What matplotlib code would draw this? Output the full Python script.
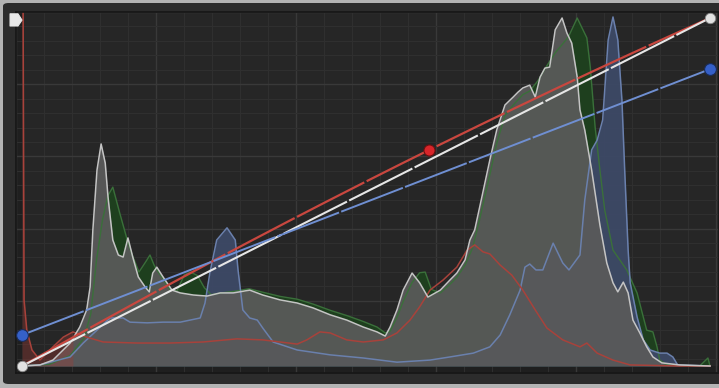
import numpy as np
import matplotlib
matplotlib.use("Agg")
import matplotlib.pyplot as plt
from matplotlib.patches import FancyBboxPatch, Rectangle, Polygon

# histogram channels, x = input level (0..1), y = relative count (0..1)
luma_x = [0, 0.026, 0.045, 0.070, 0.084, 0.094, 0.099, 0.103, 0.109, 0.115, 0.121, 0.125,
          0.132, 0.140, 0.147, 0.154, 0.161, 0.169, 0.179, 0.185, 0.190, 0.196, 0.205,
          0.218, 0.230, 0.249, 0.269, 0.288, 0.307, 0.331, 0.350, 0.375, 0.400, 0.423,
          0.448, 0.472, 0.496, 0.516, 0.528, 0.535, 0.545, 0.554, 0.567, 0.578, 0.590,
          0.608, 0.622, 0.632, 0.644, 0.651, 0.658, 0.669, 0.680, 0.690, 0.702, 0.714,
          0.721, 0.728, 0.738, 0.746, 0.753, 0.760, 0.767, 0.775, 0.785, 0.792, 0.799,
          0.807, 0.811, 0.818, 0.828, 0.840, 0.850, 0.859, 0.866, 0.874, 0.881, 0.888,
          0.898, 0.908, 0.917, 0.930, 0.956, 1.0]
luma_y = [0, 0.003, 0.017, 0.066, 0.112, 0.161, 0.227, 0.391, 0.563, 0.638, 0.583, 0.486,
          0.362, 0.319, 0.313, 0.368, 0.313, 0.256, 0.227, 0.213, 0.267, 0.284, 0.256,
          0.218, 0.210, 0.204, 0.201, 0.210, 0.210, 0.218, 0.204, 0.190, 0.181, 0.167,
          0.147, 0.132, 0.112, 0.098, 0.086, 0.112, 0.161, 0.218, 0.267, 0.239, 0.198,
          0.218, 0.247, 0.267, 0.305, 0.362, 0.391, 0.491, 0.592, 0.678, 0.750, 0.773,
          0.787, 0.799, 0.807, 0.773, 0.830, 0.856, 0.859, 0.966, 1.0, 0.957, 0.928,
          0.830, 0.736, 0.678, 0.563, 0.405, 0.296, 0.239, 0.213, 0.241, 0.210, 0.132,
          0.095, 0.055, 0.026, 0.009, 0.003, 0]

green_x = [0, 0.040, 0.070, 0.090, 0.100, 0.108, 0.117, 0.125, 0.132, 0.142, 0.153, 0.160,
           0.170, 0.180, 0.186, 0.192, 0.198, 0.205, 0.215, 0.225, 0.236, 0.245, 0.255,
           0.265, 0.275, 0.290, 0.310, 0.330, 0.350, 0.375, 0.400, 0.423, 0.448, 0.472,
           0.496, 0.516, 0.528, 0.535, 0.545, 0.555, 0.567, 0.578, 0.586, 0.595, 0.608,
           0.622, 0.632, 0.644, 0.655, 0.665, 0.680, 0.690, 0.702, 0.714, 0.728, 0.738,
           0.750, 0.762, 0.775, 0.794, 0.807, 0.821, 0.826, 0.833, 0.840, 0.847, 0.859,
           0.879, 0.894, 0.903, 0.908, 0.917, 0.923, 0.927, 0.9375, 0.985, 0.997, 1.0]
green_y = [0, 0.005, 0.030, 0.080, 0.150, 0.300, 0.420, 0.490, 0.514, 0.440, 0.362, 0.320,
           0.270, 0.300, 0.319, 0.290, 0.270, 0.250, 0.220, 0.215, 0.262, 0.270, 0.260,
           0.225, 0.205, 0.210, 0.215, 0.222, 0.212, 0.200, 0.192, 0.178, 0.160, 0.145,
           0.128, 0.112, 0.095, 0.100, 0.140, 0.190, 0.240, 0.268, 0.270, 0.220, 0.210,
           0.235, 0.255, 0.290, 0.340, 0.420, 0.550, 0.640, 0.720, 0.750, 0.780, 0.790,
           0.820, 0.860, 0.900, 0.945, 1.0, 0.943, 0.859, 0.687, 0.563, 0.448, 0.333,
           0.276, 0.210, 0.141, 0.103, 0.098, 0.055, 0.017, 0.003, 0, 0.023, 0]

blue_x = [0, 0.026, 0.070, 0.089, 0.109, 0.128, 0.147, 0.157, 0.182, 0.205, 0.230, 0.259,
          0.266, 0.273, 0.283, 0.298, 0.310, 0.314, 0.321, 0.331, 0.342, 0.350, 0.365,
          0.400, 0.448, 0.496, 0.545, 0.593, 0.622, 0.656, 0.680, 0.695, 0.709, 0.724,
          0.731, 0.738, 0.747, 0.757, 0.772, 0.786, 0.795, 0.811, 0.818, 0.828, 0.836,
          0.844, 0.852, 0.859, 0.866, 0.872, 0.876, 0.881, 0.884, 0.894, 0.903, 0.913,
          0.927, 0.9375, 0.946, 0.953, 1.0]
blue_y = [0, 0.003, 0.026, 0.066, 0.103, 0.138, 0.138, 0.126, 0.124, 0.126, 0.126, 0.138,
          0.181, 0.267, 0.362, 0.397, 0.362, 0.276, 0.161, 0.138, 0.132, 0.109, 0.069,
          0.046, 0.032, 0.023, 0.011, 0.017, 0.026, 0.037, 0.055, 0.089, 0.147, 0.218,
          0.284, 0.293, 0.276, 0.276, 0.353, 0.296, 0.276, 0.319, 0.477, 0.621, 0.649,
          0.707, 0.937, 1.003, 0.937, 0.764, 0.563, 0.333, 0.239, 0.141, 0.075, 0.046,
          0.037, 0.037, 0.026, 0.003, 0]

red_x = [0, 0.0015, 0.003, 0.007, 0.0145, 0.026, 0.045, 0.060, 0.074, 0.094, 0.118, 0.167,
         0.215, 0.263, 0.3125, 0.350, 0.400, 0.414, 0.433, 0.448, 0.472, 0.496, 0.525,
         0.545, 0.564, 0.578, 0.593, 0.612, 0.632, 0.647, 0.658, 0.670, 0.680, 0.695,
         0.712, 0.728, 0.746, 0.763, 0.786, 0.811, 0.821, 0.836, 0.859, 0.884, 0.956, 1.0]
red_y = [1.10, 1.10, 0.190, 0.103, 0.046, 0.017, 0.055, 0.083, 0.098, 0.083, 0.069, 0.066,
         0.066, 0.069, 0.078, 0.075, 0.063, 0.075, 0.098, 0.095, 0.075, 0.069, 0.075,
         0.095, 0.132, 0.170, 0.218, 0.247, 0.284, 0.333, 0.348, 0.328, 0.322, 0.290,
         0.261, 0.218, 0.161, 0.109, 0.075, 0.055, 0.066, 0.037, 0.017, 0.003, 0, 0]

# curve control points (input, output)
luma_pts = [(0.0, 0.0), (1.0, 1.0)]
red_pts = [(0.0, 0.0), (0.5916, 0.6207), (1.0, 1.0)]
blue_pts = [(0.0, 0.089), (1.0, 0.853)]

fig = plt.figure(figsize=(7.19, 3.88), dpi=100)
fig.patch.set_facecolor("#b4b4b4")
fig.patches.append(FancyBboxPatch((3 / 719, 4 / 388), 740 / 719, 381 / 388,
                                  boxstyle="round,pad=0,rounding_size=0.008",
                                  transform=fig.transFigure, facecolor="#2c2c2c",
                                  edgecolor="none", zorder=-10))

ax = fig.add_axes([16 / 719, 15 / 388, 703 / 719, 361 / 388])
xlim = (-6 / 688, 697 / 688)
ylim = (-7 / 348, 354 / 348)
ax.set_xlim(xlim)
ax.set_ylim(ylim)
ax.set_facecolor("#1f1f1f")
ax.set_axisbelow(True)
ax.add_patch(Rectangle((0, 0), 1.1, 1.1, facecolor="#262626", edgecolor="none", zorder=0))

# 25 x 25 grid, heavier every fifth line
ax.set_xticks(np.linspace(xlim[0], xlim[0] + 700 / 688, 26), minor=True)
ax.set_xticks(np.linspace(xlim[0], xlim[0] + 700 / 688, 6))
ax.set_yticks(np.linspace(ylim[0], ylim[1], 26), minor=True)
ax.set_yticks(np.linspace(ylim[0], ylim[1], 6))
ax.grid(which="minor", color="#2f2f2f", linewidth=0.8)
ax.grid(which="major", color="#393939", linewidth=1.0)
ax.tick_params(which="both", length=0, labelbottom=False, labelleft=False)
for s in ax.spines.values():
    s.set_color("#161616")
    s.set_linewidth(1.2)

# histograms
ax.fill_between(green_x, green_y, color="#1e3f1e", lw=0, zorder=1)
ax.fill_between(blue_x, blue_y, color="#3d4966", alpha=0.95, lw=0, zorder=1.1)
ax.fill_between(luma_x, luma_y, color="#5a5a5a", alpha=0.93, lw=0, zorder=1.2)
# only the clipped shadow spike carries a visible red tint
ax.fill_between(red_x[:9], red_y[:9], color="#a03a34", alpha=0.35, lw=0, zorder=1.3)
ax.plot(green_x, green_y, color="#3a703a", lw=1.0, zorder=2)
ax.plot(blue_x, blue_y, color="#6a80ad", lw=1.1, zorder=2.1)
ax.plot(red_x, red_y, color="#a8423b", lw=1.1, zorder=2.2)
ax.plot(luma_x, luma_y, color="#c4c4c4", lw=1.1, zorder=2.3)

# curves
xs = np.linspace(0, 1, 200)
rx, ry = zip(*red_pts)
red_curve = np.polyval(np.polyfit(rx, ry, 2), xs)
dash = (0, (34, 1.2))
ax.plot(xs, red_curve, color="#c9473f", lw=1.6, ls=dash, zorder=3)
ax.plot(*zip(*luma_pts), color="#e6e6e6", lw=1.5, ls=dash, zorder=3.1)
ax.plot(*zip(*blue_pts), color="#6f8fd2", lw=1.4, ls=dash, zorder=3.2)

ax.plot(*zip(*luma_pts), "o", ms=7.5, color="#e2e2e2", mec="#8a8a8a", mew=0.6,
        zorder=5, clip_on=False)
ax.plot(*zip(*blue_pts), "o", ms=8.5, color="#3560c8", mec="#1a2d5a", mew=0.8,
        zorder=5, clip_on=False)
ax.plot(red_pts[1][0], red_pts[1][1], "o", ms=8, color="#d8252a", mec="#6a1010",
        mew=0.8, zorder=5)

# channel marker in the top-left corner
ax.add_patch(Polygon([(-0.0174, 1.012), (-0.0058, 1.012), (0.0, 0.994),
                      (-0.0058, 0.977), (-0.0174, 0.977)], closed=True,
                     facecolor="#e8e8e8", edgecolor="#e8e8e8", lw=0.8,
                     joinstyle="round", zorder=6, clip_on=False))

fig.savefig("out.png", dpi=100, facecolor=fig.get_facecolor())
